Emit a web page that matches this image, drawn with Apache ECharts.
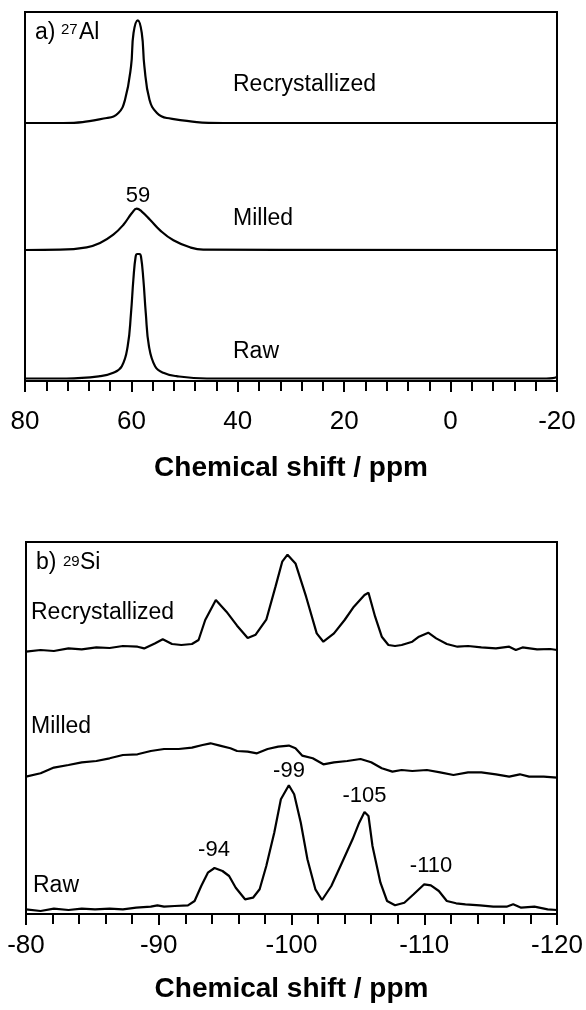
<!DOCTYPE html>
<html>
<head>
<meta charset="utf-8">
<script src="https://cdn.jsdelivr.net/npm/echarts@6/dist/echarts.min.js"></script>
<style>
html, body { margin: 0; padding: 0; background: #fff; }
#chart { width: 586px; height: 1010px; }
</style>
</head>
<body>
<div id="chart"></div>
<script>
// 27Al 谱：[化学位移 ppm, 强度]
var alRecrys = [[80,0],[72.8,0],[64.6,5],[62.45,10],[61.2,23.3],[60.07,56.7],[59.6,90],[58.8,102.7],[58.05,90],[57.56,56.7],[56.6,23.3],[55.2,10],[53.35,5],[42.7,0],[-20,0]];
var alMilled = [[80,0],[73.4,0.3],[68.4,2.7],[65.9,7],[63.4,15.3],[61.5,25.3],[59.9,37],[59.0,41.3],[58.1,38.7],[56.5,30.3],[54.6,19.7],[52.1,9.7],[49.0,2.7],[46.5,0.3],[-20,0]];
var alRaw = [[80,0],[72.2,0],[65.9,2.3],[63.4,5.7],[61.8,12.3],[60.7,32.3],[60.07,65.7],[59.63,99],[59.2,122],[58.9,124.5],[58.5,124.5],[58.2,122],[57.75,99],[57.3,65.7],[56.7,32.3],[55.55,12.3],[54.0,5.7],[51.5,2.3],[45.8,0],[-18,0],[-19.2,0.4],[-20,1.5]];

// 29Si 谱
var siRecrys = [[-80.0,0],[-81.1,1.7],[-82.1,0.7],[-83.2,3.3],[-84.2,2.3],[-85.3,4.3],[-86.3,3.7],[-87.3,5.7],[-88.4,5.0],[-88.9,3.3],[-89.7,8.3],[-90.3,12.4],[-91.0,7.7],[-91.7,6.7],[-92.5,7.7],[-93.0,11.7],[-93.5,31.7],[-94.3,51.7],[-95.1,40.0],[-95.9,26],[-96.7,13.7],[-97.3,17],[-98.1,32],[-98.8,65.3],[-99.3,90],[-99.7,97],[-100.3,88.3],[-101.1,55.0],[-101.9,18.3],[-102.4,10.0],[-103.2,18.3],[-104.0,31.7],[-104.7,45.0],[-105.5,56.7],[-105.8,59.0],[-106.3,35.0],[-106.8,15.0],[-107.3,6.7],[-107.8,5.7],[-108.3,6.7],[-109.1,10.0],[-109.6,15.0],[-110.3,19.0],[-110.9,13.3],[-111.7,7.7],[-112.5,5.0],[-113.3,5.7],[-114.3,4.3],[-115.4,3.3],[-116.4,5.0],[-116.9,1.7],[-117.4,4.3],[-118.5,2.3],[-119.5,2.7],[-120.0,1.7]];
var siMilled = [[-80.0,0.7],[-81.1,4.0],[-82.1,9.7],[-83.2,12.3],[-84.2,15.0],[-85.3,16.3],[-86.3,19.0],[-87.3,22.3],[-88.4,23.0],[-89.4,26.3],[-90.4,28.3],[-91.5,28.3],[-92.5,29.7],[-93.3,32.3],[-93.9,34.0],[-94.6,31.7],[-95.4,29.0],[-95.9,26.3],[-96.7,25.7],[-97.4,24.0],[-98.2,28.3],[-99.0,30.7],[-99.8,31.7],[-100.3,29.0],[-100.8,21.7],[-101.6,19.0],[-102.4,13.0],[-103.2,15.0],[-104.2,16.3],[-105.2,18.3],[-106.0,15.0],[-106.8,9.0],[-107.6,5.7],[-108.3,7.3],[-109.1,6.3],[-110.2,7.3],[-111.2,5.0],[-112.2,2.3],[-113.3,5.0],[-114.3,5.0],[-115.4,3.0],[-116.4,0.7],[-117.2,3.0],[-117.9,0.7],[-119.0,0.7],[-120.0,-0.3]];
var siRaw = [[-80.0,0.7],[-81.1,-1.0],[-82.1,1.3],[-83.2,0],[-84.2,1.3],[-85.2,0.7],[-86.3,1.3],[-87.3,0.7],[-88.3,2.3],[-89.4,3.3],[-89.9,4.7],[-90.4,3.3],[-91.2,4.0],[-92.2,4.7],[-92.7,9.0],[-93.2,24],[-93.7,37.3],[-94.2,42.0],[-94.8,39.0],[-95.3,34.0],[-95.8,22.3],[-96.5,10.7],[-97.1,12.3],[-97.6,20.7],[-98.1,44.0],[-98.7,77.3],[-99.2,110.7],[-99.8,124.7],[-100.2,115.7],[-100.7,87.3],[-101.2,50.7],[-101.8,20.7],[-102.3,10.0],[-103.0,24.0],[-103.8,47.3],[-104.6,70.7],[-105.1,87.3],[-105.5,98.0],[-105.8,94.0],[-106.1,64.0],[-106.7,27.3],[-107.2,9.0],[-107.8,4.7],[-108.5,7.3],[-109.2,15.7],[-110.0,25.7],[-110.5,24.7],[-111.1,19.0],[-111.7,9.0],[-112.4,6.7],[-113.1,5.7],[-114.2,4.7],[-115.2,3.3],[-116.2,3.3],[-116.7,5.7],[-117.3,2.3],[-118.3,3.3],[-119.3,0.7],[-120.0,0]];

// 各谱的竖直偏移 (Recrystallized, Milled, Raw)
var alOffsets = [258, 131, 2.5];
var siOffsets = [262.3, 136.7, 4];

var alRange = [-20, 80, 20];
var siRange = [-120, -80, 10];
var sampleNames = ['Recrystallized', 'Milled', 'Raw'];
var siPeakLabels = ['-94', '-99', '-105', '-110'];

var FONT = 'Liberation Sans, Arial, sans-serif';

function shift(data, off) {
    return data.map(function (p) { return [p[0], p[1] + off]; });
}

function makeX(idx, range, margin, gap) {
    return {
        gridIndex: idx,
        type: 'value',
        min: range[0],
        max: range[1],
        interval: range[2],
        inverse: true,
        axisLine: { show: true, onZero: false, lineStyle: { color: '#000', width: 2 } },
        axisTick: { show: true, inside: false, length: 11, lineStyle: { color: '#000', width: 2 } },
        minorTick: { show: true, splitNumber: 5, length: 10, lineStyle: { color: '#000', width: 2 } },
        splitLine: { show: false },
        minorSplitLine: { show: false },
        axisLabel: { color: '#000', fontSize: 26, fontFamily: FONT, margin: margin, showMinLabel: true, showMaxLabel: true },
        name: 'Chemical shift / ppm',
        nameLocation: 'middle',
        nameGap: gap,
        nameTextStyle: { color: '#000', fontSize: 28, fontWeight: 'bold', fontFamily: FONT }
    };
}

function makeLine(idx, data, off, smooth) {
    return {
        type: 'line',
        xAxisIndex: idx,
        yAxisIndex: idx,
        data: shift(data, off),
        showSymbol: false,
        symbol: 'none',
        smooth: smooth,
        silent: true,
        lineStyle: { color: '#000', width: 2.2 }
    };
}

function txt(s, x, y, size, align) {
    return {
        type: 'text',
        x: x,
        y: y,
        silent: true,
        style: {
            text: s,
            fill: '#000',
            font: size + 'px ' + FONT,
            align: align || 'left',
            verticalAlign: 'middle',
            textAlign: align || 'left',
            textVerticalAlign: 'middle'
        }
    };
}

var chart = echarts.init(document.getElementById('chart'), null, { renderer: 'canvas' });

var option = {
    animation: false,
    backgroundColor: '#fff',
    grid: [
        { left: 25, right: 29, top: 12, height: 369, show: true, borderColor: '#000', borderWidth: 2, backgroundColor: 'transparent', containLabel: false, outerBoundsMode: 'none' },
        { left: 26, right: 29, top: 542, height: 372, show: true, borderColor: '#000', borderWidth: 2, backgroundColor: 'transparent', containLabel: false, outerBoundsMode: 'none' }
    ],
    xAxis: [makeX(0, alRange, 28, 73), makeX(1, siRange, 19, 61)],
    yAxis: [
        { gridIndex: 0, type: 'value', min: 0, max: 369, show: false },
        { gridIndex: 1, type: 'value', min: 0, max: 372, show: false }
    ],
    series: [
        makeLine(0, alRecrys, alOffsets[0], 0.45),
        makeLine(0, alMilled, alOffsets[1], 0.45),
        makeLine(0, alRaw, alOffsets[2], 0.45),
        makeLine(1, siRecrys, siOffsets[0], false),
        makeLine(1, siMilled, siOffsets[1], false),
        makeLine(1, siRaw, siOffsets[2], false)
    ],
    graphic: [
        // (a) 27Al
        txt('a)', 35, 32.3, 23),
        txt('27', 61, 29.5, 15),
        txt('Al', 79, 32.3, 23),
        txt(sampleNames[0], 233, 84.7, 23),
        txt(sampleNames[1], 233, 218.7, 23),
        txt('59', 138, 195.6, 22, 'center'),
        txt(sampleNames[2], 233, 352, 23),
        // (b) 29Si
        txt('b)', 36, 562.3, 23),
        txt('29', 63, 561.5, 15),
        txt('Si', 80, 562.3, 23),
        txt(sampleNames[0], 31, 612.7, 23),
        txt(sampleNames[1], 31, 727, 23),
        txt(sampleNames[2], 33, 886, 23),
        txt(siPeakLabels[0], 214, 849.6, 22, 'center'),
        txt(siPeakLabels[1], 289, 770.6, 22, 'center'),
        txt(siPeakLabels[2], 364.5, 796.3, 22, 'center'),
        txt(siPeakLabels[3], 431, 865.6, 22, 'center')
    ]
};

chart.setOption(option);
</script>
</body>
</html>
